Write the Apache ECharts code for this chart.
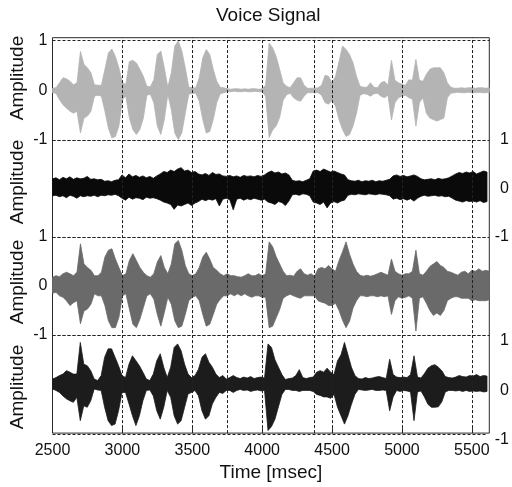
<!DOCTYPE html>
<html><head><meta charset="utf-8">
<script src="https://cdn.jsdelivr.net/npm/echarts@6/dist/echarts.min.js"></script>
<style>html,body{margin:0;padding:0;background:#fff}#c{width:512px;height:487px}</style>
</head><body><div id="c"></div>
<script>
// ---------- DATA ----------
const titleText = 'Voice Signal';
const xAxisName = 'Time [msec]';
const yAxisName = 'Amplitude';
const xMin = 2500, xMax = 5625, xStep = 500;
const yMin = -1, yMax = 1, yStep = 1;
const extraGridX = [3000, 3500, 3750, 4000, 4375, 4500, 5000, 5500];

const timeMs = [
 2500,2525,2550,2575,2600,2625,2650,2675,2700,2725,
 2750,2775,2800,2825,2850,2875,2900,2925,2950,2975,
 3000,3025,3050,3075,3100,3125,3150,3175,3200,3225,
 3250,3275,3300,3325,3350,3375,3400,3425,3450,3475,
 3500,3525,3550,3575,3600,3625,3650,3675,3700,3725,
 3750,3775,3800,3825,3850,3875,3900,3925,3950,3975,
 4000,4025,4050,4075,4100,4125,4150,4175,4200,4225,
 4250,4275,4300,4325,4350,4375,4400,4425,4450,4475,
 4500,4525,4550,4575,4600,4625,4650,4675,4700,4725,
 4750,4775,4800,4825,4850,4875,4900,4925,4950,4975,
 5000,5025,5050,5075,5100,5125,5150,5175,5200,5225,
 5250,5275,5300,5325,5350,5375,5400,5425,5450,5475,
 5500,5525,5550,5575,5600,5625];

// Panel 1: clean voice (light gray) - upper / lower envelope
const voiceUpper = [
 0.04,0.05,0.15,0.25,0.23,0.18,0.11,0.15,0.78,0.52,
 0.45,0.35,0.11,0.10,0.10,0.42,0.75,0.83,0.68,0.45,
 0.15,0.12,0.58,0.60,0.55,0.42,0.28,0.08,0.07,0.21,
 0.72,0.79,0.45,0.06,0.35,0.89,0.99,0.79,0.45,0.06,
 0.05,0.05,0.25,0.65,0.82,0.72,0.42,0.18,0.06,0.05,
 0.03,0.02,0.03,0.03,0.02,0.03,0.02,0.03,0.03,0.02,
 0.03,0.10,0.95,0.85,0.68,0.42,0.15,0.08,0.05,0.15,
 0.25,0.25,0.10,0.04,0.04,0.04,0.05,0.10,0.30,0.28,
 0.15,0.28,0.58,0.89,0.82,0.72,0.55,0.28,0.08,0.06,
 0.06,0.15,0.06,0.05,0.15,0.18,0.10,0.60,0.20,0.15,
 0.12,0.10,0.21,0.20,0.62,0.20,0.18,0.32,0.42,0.45,
 0.45,0.45,0.35,0.15,0.06,0.04,0.04,0.05,0.04,0.05,
 0.05,0.04,0.05,0.05,0.04,0.05];
const voiceLower = [
 -0.05,-0.06,-0.19,-0.29,-0.36,-0.42,-0.46,-0.42,-0.86,-0.56,
 -0.52,-0.42,-0.12,-0.10,-0.12,-0.42,-0.76,-0.96,-0.93,-0.72,
 -0.19,-0.12,-0.56,-0.79,-0.89,-0.79,-0.56,-0.10,-0.08,-0.25,
 -0.72,-0.89,-0.59,-0.08,-0.39,-0.86,-0.99,-0.86,-0.46,-0.08,
 -0.06,-0.06,-0.22,-0.59,-0.86,-0.83,-0.59,-0.25,-0.07,-0.05,
 -0.03,-0.03,-0.02,-0.03,-0.03,-0.02,-0.03,-0.03,-0.02,-0.03,
 -0.03,-0.12,-0.95,-0.80,-0.72,-0.55,-0.20,-0.09,-0.06,-0.15,
 -0.20,-0.22,-0.12,-0.05,-0.05,-0.05,-0.05,-0.10,-0.25,-0.28,
 -0.20,-0.32,-0.59,-0.79,-0.93,-0.89,-0.72,-0.46,-0.10,-0.07,
 -0.08,-0.12,-0.07,-0.06,-0.12,-0.15,-0.10,-0.60,-0.25,-0.15,
 -0.12,-0.10,-0.15,-0.18,-0.72,-0.25,-0.15,-0.46,-0.56,-0.59,
 -0.62,-0.59,-0.56,-0.15,-0.06,-0.05,-0.04,-0.05,-0.05,-0.04,
 -0.05,-0.05,-0.04,-0.05,-0.05,-0.04];

// Panel 2: noise (black)
const noiseUpper = [
 0.20,0.22,0.18,0.23,0.20,0.24,0.19,0.22,0.20,0.21,
 0.25,0.19,0.20,0.18,0.19,0.15,0.16,0.14,0.17,0.18,
 0.28,0.22,0.30,0.24,0.27,0.23,0.26,0.22,0.25,0.21,
 0.26,0.30,0.35,0.33,0.38,0.35,0.40,0.43,0.36,0.38,
 0.33,0.35,0.30,0.28,0.31,0.27,0.33,0.29,0.30,0.26,
 0.25,0.27,0.24,0.26,0.23,0.27,0.25,0.26,0.24,0.27,
 0.25,0.28,0.33,0.36,0.32,0.34,0.30,0.32,0.28,0.17,
 0.15,0.16,0.14,0.17,0.20,0.36,0.38,0.35,0.40,0.37,
 0.34,0.36,0.33,0.30,0.28,0.18,0.16,0.15,0.17,0.14,
 0.16,0.15,0.17,0.14,0.16,0.15,0.17,0.19,0.26,0.28,
 0.25,0.27,0.24,0.26,0.28,0.25,0.20,0.18,0.19,0.20,
 0.18,0.21,0.19,0.20,0.22,0.26,0.30,0.33,0.31,0.34,
 0.32,0.35,0.30,0.33,0.36,0.34];
const noiseLower = [
 -0.15,-0.14,-0.17,-0.15,-0.19,-0.14,-0.16,-0.20,-0.15,-0.17,
 -0.15,-0.16,-0.14,-0.17,-0.14,-0.15,-0.13,-0.14,-0.12,-0.15,
 -0.20,-0.24,-0.18,-0.22,-0.19,-0.20,-0.23,-0.18,-0.20,-0.19,
 -0.21,-0.24,-0.28,-0.30,-0.33,-0.43,-0.34,-0.36,-0.33,-0.30,
 -0.35,-0.30,-0.27,-0.22,-0.25,-0.22,-0.24,-0.21,-0.36,-0.22,
 -0.20,-0.23,-0.44,-0.22,-0.20,-0.24,-0.21,-0.23,-0.20,-0.22,
 -0.24,-0.22,-0.28,-0.30,-0.33,-0.27,-0.29,-0.35,-0.26,-0.13,
 -0.12,-0.14,-0.11,-0.12,-0.15,-0.28,-0.30,-0.33,-0.28,-0.40,
 -0.30,-0.27,-0.30,-0.26,-0.24,-0.14,-0.12,-0.13,-0.11,-0.12,
 -0.13,-0.11,-0.12,-0.13,-0.11,-0.12,-0.13,-0.15,-0.22,-0.20,
 -0.23,-0.21,-0.24,-0.21,-0.26,-0.20,-0.16,-0.14,-0.16,-0.15,
 -0.14,-0.16,-0.15,-0.17,-0.16,-0.20,-0.24,-0.26,-0.28,-0.25,
 -0.27,-0.26,-0.28,-0.25,-0.29,-0.27];

// Panel 3: noisy voice (gray)
const noisyUpper = [
 0.18,0.21,0.19,0.25,0.28,0.25,0.21,0.28,0.86,0.45,
 0.38,0.32,0.21,0.21,0.28,0.59,0.73,0.76,0.55,0.38,
 0.21,0.25,0.52,0.66,0.52,0.38,0.28,0.21,0.18,0.25,
 0.49,0.62,0.38,0.25,0.45,0.86,0.93,0.73,0.42,0.25,
 0.21,0.25,0.38,0.59,0.69,0.55,0.38,0.32,0.25,0.21,
 0.25,0.21,0.21,0.19,0.18,0.21,0.25,0.21,0.21,0.25,
 0.21,0.25,0.90,0.80,0.60,0.45,0.30,0.21,0.22,0.20,
 0.30,0.35,0.25,0.22,0.25,0.20,0.35,0.38,0.35,0.42,
 0.35,0.30,0.52,0.70,0.90,0.65,0.45,0.30,0.22,0.20,
 0.22,0.20,0.22,0.25,0.28,0.25,0.22,0.55,0.30,0.25,
 0.22,0.25,0.25,0.30,0.73,0.25,0.22,0.30,0.40,0.45,
 0.50,0.42,0.38,0.30,0.28,0.25,0.22,0.28,0.30,0.25,
 0.32,0.30,0.35,0.30,0.32,0.30];
const noisyLower = [
 -0.15,-0.13,-0.20,-0.23,-0.30,-0.40,-0.34,-0.30,-0.77,-0.51,
 -0.47,-0.37,-0.16,-0.20,-0.20,-0.40,-0.71,-0.85,-0.85,-0.64,
 -0.20,-0.16,-0.47,-0.78,-0.85,-0.68,-0.44,-0.20,-0.16,-0.27,
 -0.58,-0.82,-0.54,-0.23,-0.37,-0.71,-0.85,-0.82,-0.58,-0.30,
 -0.23,-0.20,-0.30,-0.58,-0.82,-0.78,-0.58,-0.37,-0.27,-0.20,
 -0.20,-0.16,-0.20,-0.16,-0.20,-0.16,-0.20,-0.23,-0.20,-0.20,
 -0.23,-0.23,-0.85,-0.82,-0.65,-0.48,-0.25,-0.20,-0.17,-0.20,
 -0.23,-0.25,-0.20,-0.20,-0.20,-0.20,-0.30,-0.33,-0.35,-0.40,
 -0.40,-0.35,-0.50,-0.70,-0.85,-0.72,-0.45,-0.30,-0.20,-0.20,
 -0.22,-0.20,-0.20,-0.22,-0.20,-0.22,-0.20,-0.58,-0.30,-0.22,
 -0.25,-0.23,-0.20,-0.25,-0.92,-0.25,-0.22,-0.35,-0.50,-0.60,
 -0.55,-0.60,-0.50,-0.30,-0.25,-0.22,-0.22,-0.25,-0.25,-0.25,
 -0.30,-0.28,-0.30,-0.30,-0.30,-0.28];

// Panel 4: enhanced voice (near black)
const enhancedUpper = [
 0.11,0.14,0.18,0.21,0.28,0.25,0.21,0.21,0.85,0.41,
 0.38,0.28,0.11,0.08,0.18,0.55,0.72,0.72,0.55,0.38,
 0.18,0.14,0.41,0.58,0.48,0.38,0.25,0.11,0.08,0.21,
 0.48,0.62,0.35,0.14,0.35,0.75,0.82,0.68,0.41,0.21,
 0.14,0.18,0.31,0.55,0.62,0.45,0.35,0.21,0.14,0.18,
 0.11,0.14,0.18,0.14,0.12,0.15,0.13,0.16,0.12,0.14,
 0.15,0.13,0.82,0.75,0.50,0.35,0.20,0.10,0.12,0.13,
 0.18,0.30,0.14,0.12,0.14,0.15,0.25,0.28,0.25,0.33,
 0.25,0.20,0.48,0.60,0.85,0.60,0.35,0.18,0.12,0.11,
 0.14,0.12,0.13,0.15,0.16,0.14,0.12,0.51,0.20,0.15,
 0.14,0.15,0.14,0.20,0.58,0.15,0.13,0.22,0.33,0.38,
 0.40,0.35,0.28,0.16,0.14,0.13,0.15,0.18,0.16,0.15,
 0.18,0.17,0.20,0.16,0.18,0.17];
const enhancedLower = [
 -0.09,-0.12,-0.16,-0.23,-0.29,-0.33,-0.36,-0.26,-0.73,-0.43,
 -0.46,-0.33,-0.09,-0.11,-0.12,-0.46,-0.73,-0.83,-0.80,-0.53,
 -0.16,-0.16,-0.39,-0.63,-0.83,-0.63,-0.33,-0.12,-0.11,-0.23,
 -0.53,-0.70,-0.46,-0.12,-0.26,-0.63,-0.80,-0.73,-0.46,-0.19,
 -0.16,-0.12,-0.23,-0.53,-0.70,-0.63,-0.39,-0.26,-0.16,-0.18,
 -0.12,-0.12,-0.16,-0.12,-0.10,-0.12,-0.11,-0.14,-0.12,-0.11,
 -0.13,-0.12,-0.93,-0.85,-0.70,-0.45,-0.20,-0.10,-0.10,-0.12,
 -0.12,-0.14,-0.12,-0.12,-0.12,-0.14,-0.20,-0.22,-0.25,-0.25,
 -0.28,-0.20,-0.46,-0.63,-0.80,-0.63,-0.40,-0.20,-0.10,-0.11,
 -0.12,-0.11,-0.10,-0.12,-0.12,-0.11,-0.12,-0.53,-0.25,-0.12,
 -0.14,-0.12,-0.13,-0.15,-0.73,-0.15,-0.13,-0.25,-0.40,-0.46,
 -0.46,-0.45,-0.35,-0.15,-0.12,-0.12,-0.13,-0.12,-0.14,-0.12,
 -0.14,-0.13,-0.14,-0.13,-0.15,-0.14];

// ---------- CHART ----------
const FONT = '"Liberation Sans", Arial, Helvetica, sans-serif';
const TXT = '#111';
const panels = [
  { up: voiceUpper,    lo: voiceLower,    color: '#b4b4b4', top: 40.5, bottom: 140, side: 'left'  },
  { up: noiseUpper,    lo: noiseLower,    color: '#0a0a0a', top: 140,  bottom: 237, side: 'right' },
  { up: noisyUpper,    lo: noisyLower,    color: '#6a6a6a', top: 237,  bottom: 335, side: 'left'  },
  { up: enhancedUpper, lo: enhancedLower, color: '#1c1c1c', top: 335,  bottom: 434, side: 'right', shift: true }
];
const nameCenters = [78, 182, 282, 387];
const LEFT = 52.5, RIGHT = 22.7;

const grids = [{ left: LEFT, right: RIGHT, top: 37.7, bottom: 48.5, show: true,
                 borderColor: '#2a2a2a', borderWidth: 1, backgroundColor: 'transparent' }];
const xAxes = [{
  type: 'value', gridIndex: 0, min: xMin, max: xMax, interval: xStep,
  axisLine: { show: false },
  axisTick: { show: true, inside: true, length: 5, lineStyle: { color: '#2a2a2a' } },
  splitLine: { show: false },
  axisLabel: { fontSize: 16, fontFamily: FONT, color: TXT, margin: 9, showMaxLabel: false,
               formatter: v => String(v) },
  name: xAxisName, nameLocation: 'middle', nameGap: 29,
  nameTextStyle: { fontSize: 19, fontFamily: FONT, color: TXT }
}];
const yAxes = [{ type: 'value', gridIndex: 0, min: 0, max: 1, show: false }];
const series = [{
  type: 'line', xAxisIndex: 0, yAxisIndex: 0, data: [], silent: true, z: 10,
  markLine: {
    symbol: 'none', silent: true, animation: false, label: { show: false },
    lineStyle: { type: [3, 2], color: '#222', width: 1 },
    data: extraGridX.map(v => ({ xAxis: v }))
  }
}];

// Envelope band drawn as one polygon through the axis scales (api.coord)
const bandRenderer = color => (params, api) => {
  if (params.dataIndexInside !== 0) return null;
  const n = params.dataInsideLength;
  const top = [], bot = [];
  for (let i = 0; i < n; i++) {
    const t = api.value(0, i);
    top.push(api.coord([t, api.value(2, i)]));
    bot.push(api.coord([t, api.value(1, i)]));
  }
  return {
    type: 'polygon', silent: true,
    shape: { points: top.concat(bot.reverse()) },
    style: { fill: color, stroke: color, lineWidth: 0.8 }
  };
};

panels.forEach((p, k) => {
  const gi = k + 1;
  grids.push({ left: LEFT, right: RIGHT, top: p.top, height: p.bottom - p.top });
  xAxes.push({ type: 'value', gridIndex: gi, min: xMin, max: xMax, show: false });
  const lab = { fontSize: 16, fontFamily: FONT, color: TXT };
  if (p.side === 'left') { lab.margin = 5; }
  else { lab.align = 'right'; lab.margin = 22; }
  if (p.shift) { lab.verticalAlign = 'top'; lab.lineHeight = 12; }
  yAxes.push({
    type: 'value', gridIndex: gi, min: yMin, max: yMax, interval: yStep, position: p.side,
    axisLine: { show: false }, axisTick: { show: false },
    axisLabel: lab,
    splitLine: { show: true, lineStyle: { type: [3, 2], color: ['#222', 'rgba(0,0,0,0)'], width: 1 } }
  });
  series.push({
    type: 'custom', xAxisIndex: gi, yAxisIndex: gi, z: 3, silent: true,
    data: timeMs.map((t, i) => [t, p.lo[i], p.up[i]]),
    encode: { x: 0, y: [1, 2] },
    renderItem: bandRenderer(p.color)
  });
});

const graphic = nameCenters.map(cy => ({
  type: 'text', x: 18, y: cy, rotation: Math.PI / 2, silent: true,
  style: { text: yAxisName, font: '19px ' + FONT, fill: TXT,
           align: 'center', verticalAlign: 'middle', textAlign: 'center', textVerticalAlign: 'middle' }
}));

const chart = echarts.init(document.getElementById('c'), null, { renderer: 'canvas' });
chart.setOption({
  animation: false,
  backgroundColor: '#fff',
  title: { text: titleText, left: 216, top: 6, padding: 0,
           textStyle: { fontSize: 19, fontWeight: 'normal', fontFamily: FONT, color: TXT } },
  grid: grids, xAxis: xAxes, yAxis: yAxes, series: series, graphic: graphic
});
</script></body></html>
